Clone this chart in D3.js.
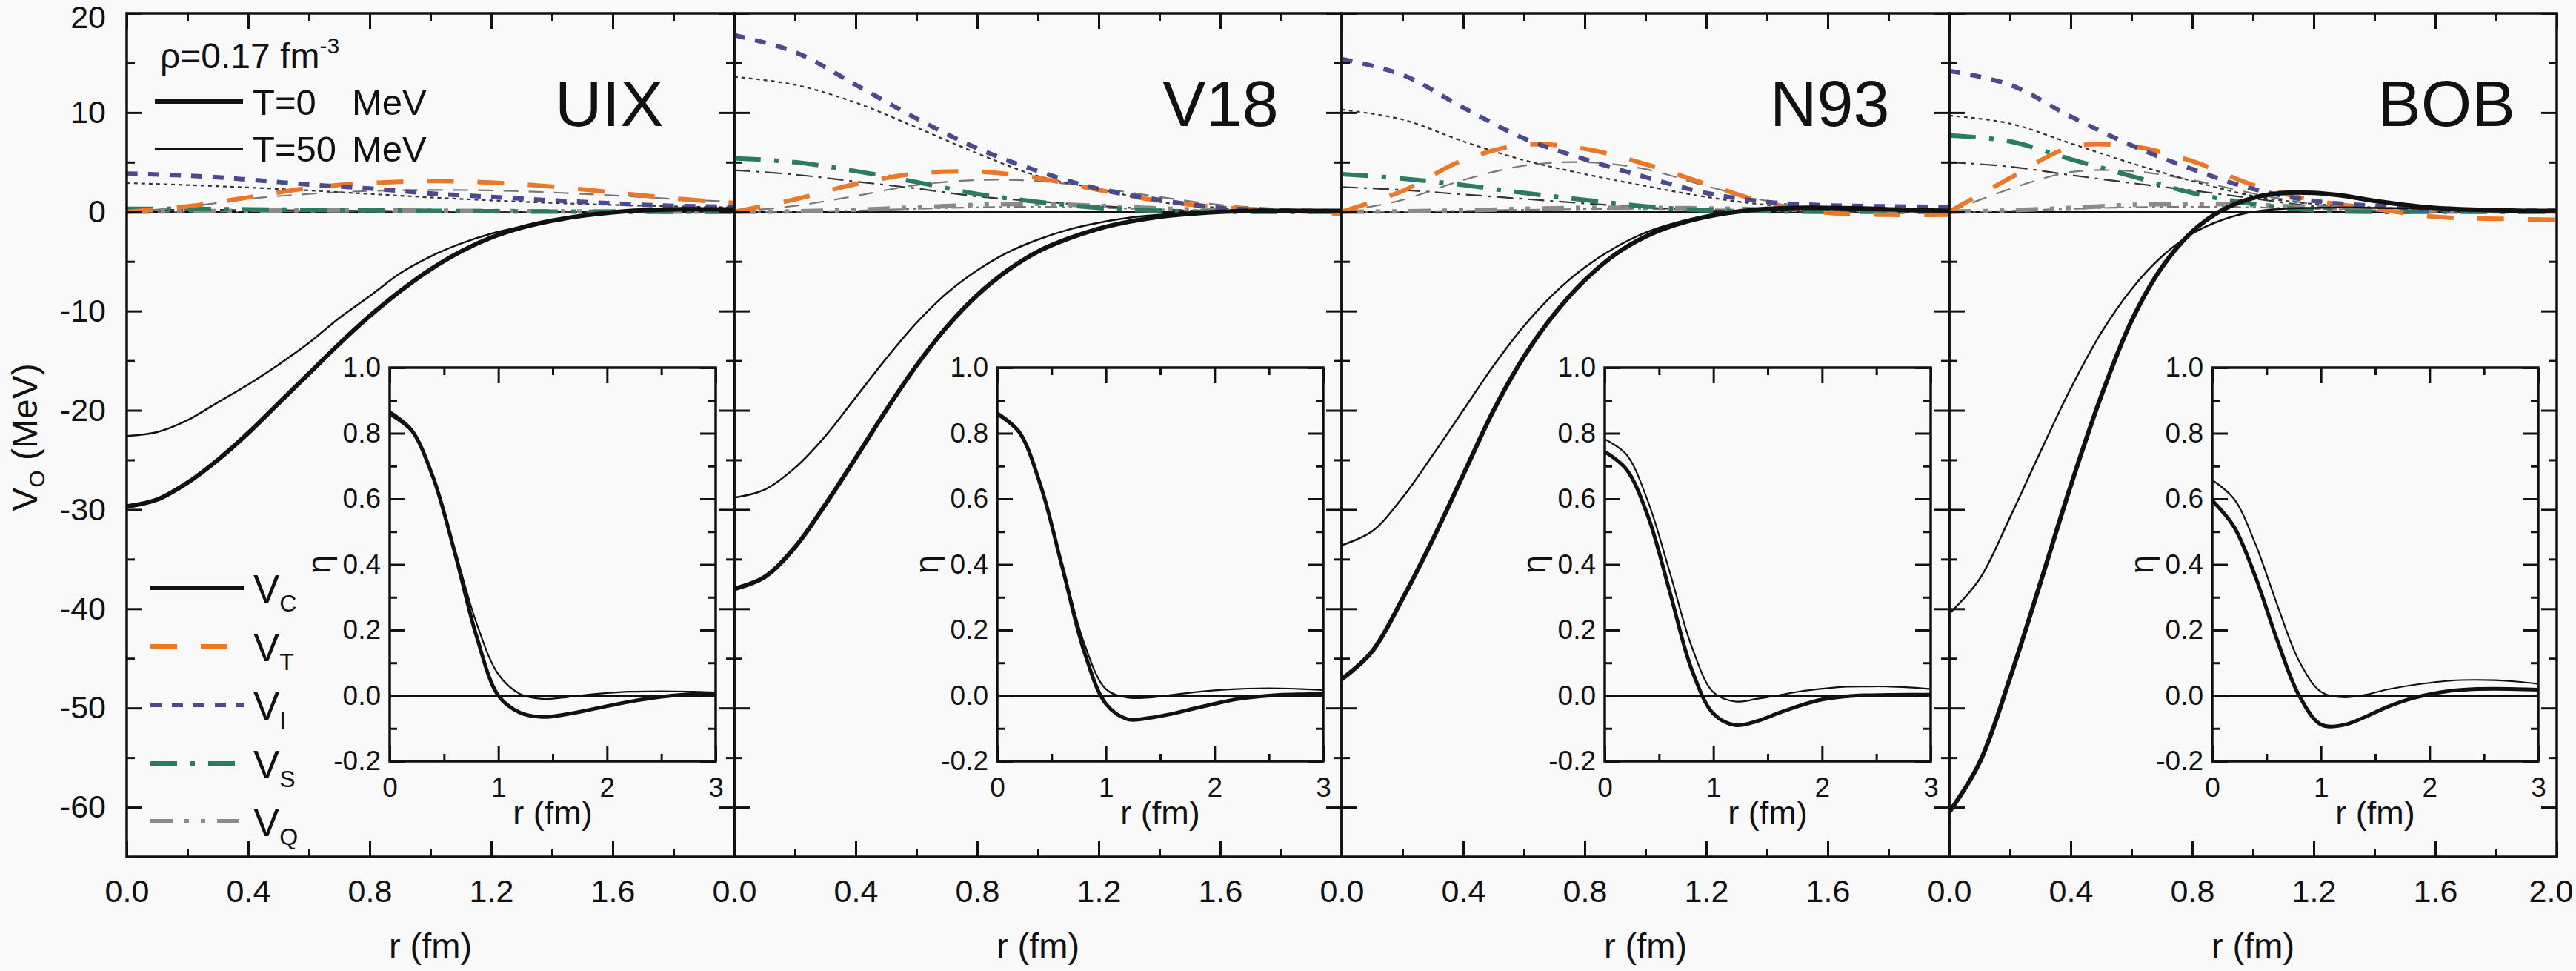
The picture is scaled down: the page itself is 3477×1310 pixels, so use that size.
<!DOCTYPE html>
<html><head><meta charset="utf-8">
<script src="https://cdn.jsdelivr.net/npm/d3@7"></script>
<style>html,body{margin:0;padding:0;background:#f9f9f9;}text{font-family:"Liberation Sans",Arial,sans-serif;fill:#111;}</style>
</head><body>
<script>
// ---------- DATA ----------
const PANEL_NAMES = ["UIX","V18","N93","BOB"];
const R_MAIN = [0,0.1,0.2,0.3,0.4,0.5,0.6,0.7,0.8,0.9,1.0,1.1,1.2,1.3,1.4,1.5,1.6,1.7,1.8,1.9,2.0];
const R_COMP = [0,0.2,0.4,0.6,0.8,1.0,1.2,1.4,1.6,1.8,2.0];
const R_ETA  = [0,0.2,0.4,0.6,0.8,1.0,1.2,1.4,1.6,1.8,2.0,2.2,2.4,2.6,2.8,3.0];
const Y_TICKS = [-60,-50,-40,-30,-20,-10,0,10,20];
const Y_MINOR = [-55,-45,-35,-25,-15,-5,5,15];
const X_TICKS = [0,0.4,0.8,1.2,1.6];
const X_TICKS_LAST = [0,0.4,0.8,1.2,1.6,2.0];
const X_MINOR = [0.2,0.6,1.0,1.4,1.8];
const ETA_Y_TICKS = [-0.2,0,0.2,0.4,0.6,0.8,1.0];
const ETA_Y_MINOR = [-0.1,0.1,0.3,0.5,0.7,0.9];
const ETA_X_TICKS = [0,1,2,3];
const ETA_X_MINOR = [0.5,1.5,2.5];

// central potential V_C (T=0 thick, T=50 thin), on R_MAIN
const UIX_VC_T0  = [-29.7,-29.0,-27.3,-25.0,-22.3,-19.3,-16.3,-13.3,-10.5,-8.0,-5.8,-4.0,-2.6,-1.6,-0.9,-0.4,-0.05,0.15,0.25,0.25,0.25];
const UIX_VC_T50 = [-22.6,-22.2,-21.0,-19.2,-17.4,-15.4,-13.2,-10.7,-8.5,-6.2,-4.5,-3.2,-2.2,-1.5,-0.9,-0.4,-0.1,0.1,0.2,0.2,0.2];
const V18_VC_T0  = [-38.0,-36.8,-33.8,-29.5,-24.8,-20.0,-15.5,-11.6,-8.4,-5.9,-4.0,-2.7,-1.7,-1.0,-0.5,-0.2,0.0,0.1,0.1,0.1,0.1];
const V18_VC_T50 = [-28.8,-28.0,-25.8,-22.6,-18.7,-14.8,-11.2,-8.2,-5.9,-4.1,-2.8,-1.8,-1.1,-0.6,-0.3,-0.1,0.0,0.05,0.1,0.1,0.1];
const N93_VC_T0  = [-47.1,-44.3,-39.0,-33.0,-26.5,-20.0,-14.6,-10.3,-6.9,-4.3,-2.5,-1.3,-0.5,0.0,0.3,0.4,0.4,0.35,0.25,0.15,0.1];
const N93_VC_T50 = [-33.6,-32.2,-28.8,-24.5,-20.0,-15.5,-11.5,-8.2,-5.6,-3.6,-2.1,-1.1,-0.4,0.0,0.2,0.3,0.3,0.25,0.2,0.15,0.1];
const BOB_VC_T0  = [-60.5,-55.5,-47.0,-37.4,-27.6,-18.6,-11.0,-5.6,-2.0,0.2,1.4,1.9,1.9,1.6,1.1,0.7,0.4,0.25,0.15,0.1,0.1];
const BOB_VC_T50 = [-40.5,-37.0,-30.8,-24.2,-17.8,-12.2,-7.8,-4.5,-2.2,-0.8,0.0,0.3,0.4,0.45,0.4,0.35,0.3,0.25,0.2,0.15,0.1];

// component potentials on R_COMP
const UIX_VT_T0  = [0,0.55,1.45,2.4,2.9,3.1,2.95,2.55,1.95,1.35,0.9];
const UIX_VT_T50 = [0,0.5,1.3,1.8,2.1,2.2,2.15,1.95,1.65,1.3,1.0];
const UIX_VI_T0  = [3.85,3.65,3.25,2.75,2.35,1.85,1.5,1.15,0.85,0.6,0.5];
const UIX_VI_T50 = [2.9,2.7,2.45,2.15,1.8,1.45,1.15,0.9,0.7,0.55,0.45];
const UIX_VS_T0  = [0.3,0.3,0.25,0.2,0.15,0.1,0.05,0.02,0,0,0];
const UIX_VS_T50 = [0.2,0.2,0.18,0.15,0.1,0.06,0.03,0.01,0,0,0];
const UIX_VQ_T0  = [0,0.05,0.1,0.15,0.15,0.12,0.08,0.05,0.03,0.02,0.01];
const UIX_VQ_T50 = [0,0.03,0.06,0.08,0.08,0.07,0.05,0.03,0.02,0.01,0.01];

const V18_VT_T0  = [0,1.25,2.8,3.85,4.05,3.4,2.2,1.1,0.45,0.15,-0.2];
const V18_VT_T50 = [0,0.6,1.6,2.7,3.2,3.1,2.4,1.5,0.7,0.3,0.0];
const V18_VI_T0  = [17.8,16.1,12.8,9.4,6.4,4.1,2.3,1.2,0.4,0.15,0.05];
const V18_VI_T50 = [13.6,12.8,11.0,8.5,5.9,3.6,2.3,1.0,0.4,0.12,0.05];
const V18_VS_T0  = [5.4,5.0,4.1,3.0,1.8,1.0,0.4,0.1,0,0,0];
const V18_VS_T50 = [4.2,3.75,3.05,2.35,1.55,1.05,0.6,0.25,0.05,0,0];
const V18_VQ_T0  = [0,0.05,0.2,0.45,0.7,0.8,0.6,0.35,0.15,0.08,0.05];
const V18_VQ_T50 = [0,0.03,0.12,0.3,0.45,0.5,0.4,0.25,0.12,0.06,0.03];

const N93_VT_T0  = [0,2.1,5.2,6.75,6.35,4.8,2.8,0.9,-0.1,-0.3,-0.3];
const N93_VT_T50 = [0,1.2,3.2,4.65,5.0,4.3,2.6,1.1,0.3,0.05,0];
const N93_VI_T0  = [15.4,13.8,10.5,7.4,5.3,3.5,1.9,1.0,0.65,0.55,0.5];
const N93_VI_T50 = [10.3,9.3,7.1,5.2,3.8,2.6,1.5,0.7,0.45,0.35,0.3];
const N93_VS_T0  = [3.8,3.35,2.7,1.9,1.2,0.55,0.15,0.05,0,0,0];
const N93_VS_T50 = [2.5,2.2,1.75,1.3,0.85,0.45,0.15,0.05,0,0,0];
const N93_VQ_T0  = [0,0.05,0.15,0.3,0.4,0.4,0.35,0.25,0.15,0.08,0.05];
const N93_VQ_T50 = [0,0.03,0.1,0.2,0.28,0.3,0.25,0.18,0.1,0.05,0.03];

const BOB_VT_T0  = [0,3.4,6.5,6.6,5.1,2.7,1.15,0.3,-0.5,-0.7,-0.8];
const BOB_VT_T50 = [0,2.3,4.0,4.1,3.2,1.85,0.75,0.1,-0.1,-0.1,-0.1];
const BOB_VI_T0  = [14.2,12.8,9.6,6.7,4.3,2.3,1.1,0.6,0.3,0.15,0.1];
const BOB_VI_T50 = [9.7,8.9,6.9,4.9,3.1,1.6,0.8,0.45,0.25,0.15,0.1];
const BOB_VS_T0  = [7.7,7.1,5.3,3.6,1.9,0.8,0.15,0,0,0,0];
const BOB_VS_T50 = [5.0,4.55,3.7,2.9,2.15,1.35,0.55,0.15,0,0,0];
const BOB_VQ_T0  = [0,0.15,0.4,0.7,0.8,0.7,0.45,0.25,0.15,0.08,0.05];
const BOB_VQ_T50 = [0,0.1,0.3,0.45,0.5,0.45,0.3,0.18,0.1,0.05,0.03];

// inset eta(r) on R_ETA
const UIX_ETA_T0  = [0.864,0.81,0.665,0.435,0.18,0.0,-0.052,-0.065,-0.058,-0.046,-0.032,-0.019,-0.008,0.0,0.005,0.007];
const UIX_ETA_T50 = [0.855,0.805,0.665,0.445,0.22,0.065,0.005,-0.01,-0.006,0.002,0.008,0.012,0.013,0.013,0.012,0.01];
const V18_ETA_T0  = [0.861,0.805,0.64,0.39,0.135,-0.025,-0.072,-0.068,-0.056,-0.04,-0.025,-0.011,-0.003,0.002,0.004,0.005];
const V18_ETA_T50 = [0.855,0.80,0.64,0.40,0.16,0.02,-0.006,-0.006,0.002,0.01,0.016,0.02,0.022,0.022,0.02,0.017];
const N93_ETA_T0  = [0.744,0.69,0.545,0.315,0.08,-0.055,-0.09,-0.078,-0.053,-0.03,-0.012,-0.003,0.001,0.002,0.003,0.003];
const N93_ETA_T50 = [0.782,0.735,0.59,0.375,0.15,0.01,-0.018,-0.01,0.001,0.013,0.021,0.027,0.028,0.028,0.025,0.02];
const BOB_ETA_T0  = [0.595,0.515,0.36,0.167,0.0,-0.088,-0.09,-0.066,-0.036,-0.012,0.004,0.015,0.02,0.021,0.02,0.018];
const BOB_ETA_T50 = [0.657,0.60,0.46,0.275,0.105,0.012,-0.005,0.002,0.018,0.03,0.039,0.046,0.048,0.047,0.043,0.036];

// ---------- assemble tables ----------
const VC = [[UIX_VC_T0,UIX_VC_T50],[V18_VC_T0,V18_VC_T50],[N93_VC_T0,N93_VC_T50],[BOB_VC_T0,BOB_VC_T50]];
const COMP = [
  {VT:[UIX_VT_T0,UIX_VT_T50],VI:[UIX_VI_T0,UIX_VI_T50],VS:[UIX_VS_T0,UIX_VS_T50],VQ:[UIX_VQ_T0,UIX_VQ_T50]},
  {VT:[V18_VT_T0,V18_VT_T50],VI:[V18_VI_T0,V18_VI_T50],VS:[V18_VS_T0,V18_VS_T50],VQ:[V18_VQ_T0,V18_VQ_T50]},
  {VT:[N93_VT_T0,N93_VT_T50],VI:[N93_VI_T0,N93_VI_T50],VS:[N93_VS_T0,N93_VS_T50],VQ:[N93_VQ_T0,N93_VQ_T50]},
  {VT:[BOB_VT_T0,BOB_VT_T50],VI:[BOB_VI_T0,BOB_VI_T50],VS:[BOB_VS_T0,BOB_VS_T50],VQ:[BOB_VQ_T0,BOB_VQ_T50]}
];
const ETA = [[UIX_ETA_T0,UIX_ETA_T50],[V18_ETA_T0,V18_ETA_T50],[N93_ETA_T0,N93_ETA_T50],[BOB_ETA_T0,BOB_ETA_T50]];

// styles
const STY = {
  VT:{c0:"#e9782a", c1:"#777", d0:"36,32", d1:"20,14"},
  VI:{c0:"#4a4a8c", c1:"#333", d0:"15,14", d1:"5,5"},
  VS:{c0:"#2b7a62", c1:"#333", d0:"36,18,6,18", d1:"22,8,4,8"},
  VQ:{c0:"#8a8a8a", c1:"#777", d0:"30,16,6,16,6,16", d1:"16,6,4,6,4,6"}
};
const ORDER = ["VQ","VS","VT","VI"];

const W = 3477, H = 1310;
const LEFT = 171, PW = 820, TOP = 18, BOT = 1156;
const FONT = '"Liberation Sans",Arial,sans-serif';

const svg = d3.select("body").append("svg").attr("width",W).attr("height",H);
svg.append("rect").attr("width",W).attr("height",H).attr("fill","#f9f9f9");
const defs = svg.append("defs");

const y = d3.scaleLinear().domain([-65,20]).range([BOT,TOP]);
const zip = (rs, vs) => rs.map((r,i)=>[r, vs[i]]);

function styleAxis(g, fs){
  g.select(".domain").remove();
  g.selectAll(".tick line").attr("stroke","#111").attr("stroke-width",3);
  g.selectAll(".tick text").attr("font-size",fs).attr("font-family",FONT).attr("fill","#111");
}

PANEL_NAMES.forEach((name,i)=>{
  const x0 = LEFT + i*PW;
  const x = d3.scaleLinear().domain([0,2]).range([x0, x0+PW]);
  const g = svg.append("g");
  defs.append("clipPath").attr("id","clip"+i).append("rect")
    .attr("x",x0).attr("y",TOP).attr("width",PW).attr("height",BOT-TOP);
  const pg = g.append("g").attr("clip-path",`url(#clip${i})`);
  const line = d3.line().x(d=>x(d[0])).y(d=>y(d[1])).curve(d3.curveCatmullRom.alpha(0.5));

  // zero line
  pg.append("line").attr("x1",x(0)).attr("x2",x(2)).attr("y1",y(0)).attr("y2",y(0))
    .attr("stroke","#111").attr("stroke-width",3);

  // component potentials: thin (T=50) then thick (T=0)
  ORDER.forEach(k=>{
    const s = STY[k];
    pg.append("path").datum(zip(R_COMP, COMP[i][k][1])).attr("d",line)
      .attr("fill","none").attr("stroke",s.c1).attr("stroke-width",2.2).attr("stroke-dasharray",s.d1);
  });
  ORDER.forEach(k=>{
    const s = STY[k];
    pg.append("path").datum(zip(R_COMP, COMP[i][k][0])).attr("d",line)
      .attr("fill","none").attr("stroke",s.c0).attr("stroke-width",6).attr("stroke-dasharray",s.d0);
  });
  // central
  pg.append("path").datum(zip(R_MAIN, VC[i][1])).attr("d",line)
    .attr("fill","none").attr("stroke","#111").attr("stroke-width",2.5);
  pg.append("path").datum(zip(R_MAIN, VC[i][0])).attr("d",line)
    .attr("fill","none").attr("stroke","#111").attr("stroke-width",6);

  // axes (inward ticks)
  const xt = i===3 ? X_TICKS_LAST : X_TICKS;
  g.append("g").attr("transform",`translate(0,${BOT})`)
    .call(d3.axisBottom(x).tickValues(xt).tickSize(-21).tickSizeOuter(0).tickPadding(30).tickFormat(d3.format(".1f")))
    .call(a=>styleAxis(a,43))
    .call(a=>a.selectAll(".tick text").filter(d=>d===2).attr("dx",-8));
  g.append("g").attr("transform",`translate(0,${BOT})`)
    .call(d3.axisBottom(x).tickValues(X_MINOR).tickSize(-11).tickSizeOuter(0).tickFormat(""))
    .call(a=>styleAxis(a,43));
  g.append("g").attr("transform",`translate(0,${TOP})`)
    .call(d3.axisTop(x).tickValues(X_TICKS_LAST).tickSize(-21).tickSizeOuter(0).tickFormat(""))
    .call(a=>styleAxis(a,43));
  g.append("g").attr("transform",`translate(0,${TOP})`)
    .call(d3.axisTop(x).tickValues(X_MINOR).tickSize(-11).tickSizeOuter(0).tickFormat(""))
    .call(a=>styleAxis(a,43));
  g.append("g").attr("transform",`translate(${x0},0)`)
    .call(d3.axisLeft(y).tickValues(Y_TICKS).tickSize(-21).tickSizeOuter(0).tickPadding(28)
      .tickFormat(i===0 ? (d=>String(d)) : ""))
    .call(a=>styleAxis(a,43))
    .call(a=>a.selectAll(".tick text").filter(d=>d===20).attr("dy","0.45em"));
  g.append("g").attr("transform",`translate(${x0},0)`)
    .call(d3.axisLeft(y).tickValues(Y_MINOR).tickSize(-11).tickSizeOuter(0).tickFormat(""))
    .call(a=>styleAxis(a,43));
  g.append("g").attr("transform",`translate(${x0+PW},0)`)
    .call(d3.axisRight(y).tickValues(Y_TICKS).tickSize(-21).tickSizeOuter(0).tickFormat(""))
    .call(a=>styleAxis(a,43));
  g.append("g").attr("transform",`translate(${x0+PW},0)`)
    .call(d3.axisRight(y).tickValues(Y_MINOR).tickSize(-11).tickSizeOuter(0).tickFormat(""))
    .call(a=>styleAxis(a,43));

  // frame
  g.append("rect").attr("x",x0).attr("y",TOP).attr("width",PW).attr("height",BOT-TOP)
    .attr("fill","none").attr("stroke","#111").attr("stroke-width",3.5);

  // panel label
  g.append("text").attr("x",x0+578).attr("y",170).attr("font-size",88).text(name);

  // x title
  g.append("text").attr("x",x0+PW/2).attr("y",1292).attr("text-anchor","middle").attr("font-size",47).text("r (fm)");

  // ---- inset ----
  const ix = d3.scaleLinear().domain([0,3]).range([x0+355, x0+795]);
  const iy = d3.scaleLinear().domain([-0.2,1.0]).range([1027,496]);
  const ig = g.append("g");
  const iline = d3.line().x(d=>ix(d[0])).y(d=>iy(d[1])).curve(d3.curveCatmullRom.alpha(0.5));
  ig.append("rect").attr("x",ix(0)).attr("y",iy(1)).attr("width",ix(3)-ix(0)).attr("height",iy(-0.2)-iy(1))
    .attr("fill","#f9f9f9");
  ig.append("line").attr("x1",ix(0)).attr("x2",ix(3)).attr("y1",iy(0)).attr("y2",iy(0))
    .attr("stroke","#111").attr("stroke-width",3);
  ig.append("path").datum(zip(R_ETA, ETA[i][1])).attr("d",iline)
    .attr("fill","none").attr("stroke","#111").attr("stroke-width",2.2);
  ig.append("path").datum(zip(R_ETA, ETA[i][0])).attr("d",iline)
    .attr("fill","none").attr("stroke","#111").attr("stroke-width",5);

  ig.append("g").attr("transform",`translate(0,${iy(-0.2)})`)
    .call(d3.axisBottom(ix).tickValues(ETA_X_TICKS).tickSize(-21).tickSizeOuter(0).tickPadding(22).tickFormat(d=>String(d)))
    .call(a=>styleAxis(a,37));
  ig.append("g").attr("transform",`translate(0,${iy(-0.2)})`)
    .call(d3.axisBottom(ix).tickValues(ETA_X_MINOR).tickSize(-10).tickSizeOuter(0).tickFormat(""))
    .call(a=>styleAxis(a,37));
  ig.append("g").attr("transform",`translate(0,${iy(1)})`)
    .call(d3.axisTop(ix).tickValues(ETA_X_TICKS).tickSize(-21).tickSizeOuter(0).tickFormat(""))
    .call(a=>styleAxis(a,37));
  ig.append("g").attr("transform",`translate(0,${iy(1)})`)
    .call(d3.axisTop(ix).tickValues(ETA_X_MINOR).tickSize(-10).tickSizeOuter(0).tickFormat(""))
    .call(a=>styleAxis(a,37));
  ig.append("g").attr("transform",`translate(${ix(0)},0)`)
    .call(d3.axisLeft(iy).tickValues(ETA_Y_TICKS).tickSize(-21).tickSizeOuter(0).tickPadding(12).tickFormat(d=>d.toFixed(1)))
    .call(a=>styleAxis(a,37));
  ig.append("g").attr("transform",`translate(${ix(0)},0)`)
    .call(d3.axisLeft(iy).tickValues(ETA_Y_MINOR).tickSize(-10).tickSizeOuter(0).tickFormat(""))
    .call(a=>styleAxis(a,37));
  ig.append("g").attr("transform",`translate(${ix(3)},0)`)
    .call(d3.axisRight(iy).tickValues(ETA_Y_TICKS).tickSize(-21).tickSizeOuter(0).tickFormat(""))
    .call(a=>styleAxis(a,37));
  ig.append("g").attr("transform",`translate(${ix(3)},0)`)
    .call(d3.axisRight(iy).tickValues(ETA_Y_MINOR).tickSize(-10).tickSizeOuter(0).tickFormat(""))
    .call(a=>styleAxis(a,37));
  ig.append("rect").attr("x",ix(0)).attr("y",iy(1)).attr("width",ix(3)-ix(0)).attr("height",iy(-0.2)-iy(1))
    .attr("fill","none").attr("stroke","#111").attr("stroke-width",3.5);
  ig.append("text").attr("x",(ix(0)+ix(3))/2).attr("y",1112).attr("text-anchor","middle").attr("font-size",45).text("r (fm)");
  ig.append("text").attr("transform",`translate(${x0+275},${(iy(1)+iy(-0.2))/2}) rotate(-90)`)
    .attr("text-anchor","middle").attr("font-size",45).text("η");
});

// y title
const yt = svg.append("text").attr("transform","translate(50,590) rotate(-90)").attr("text-anchor","middle").attr("font-size",48);
yt.append("tspan").text("V");
yt.append("tspan").attr("font-size",30).attr("dy",10).text("O");
yt.append("tspan").attr("dy",-10).text(" (MeV)");

// top-left legend
const t1 = svg.append("text").attr("x",216).attr("y",92).attr("font-size",48);
t1.append("tspan").text("ρ=0.17 fm");
t1.append("tspan").attr("font-size",30).attr("dy",-20).text("-3");
svg.append("line").attr("x1",209).attr("x2",328).attr("y1",137).attr("y2",137).attr("stroke","#111").attr("stroke-width",6);
svg.append("text").attr("x",341).attr("y",155).attr("font-size",49).text("T=0");
svg.append("text").attr("x",475).attr("y",155).attr("font-size",49).text("MeV");
svg.append("line").attr("x1",209).attr("x2",328).attr("y1",201).attr("y2",201).attr("stroke","#111").attr("stroke-width",2.5);
svg.append("text").attr("x",341).attr("y",218).attr("font-size",49).text("T=50");
svg.append("text").attr("x",475).attr("y",218).attr("font-size",49).text("MeV");

// bottom-left legend
const LEG = [
  {sub:"C", stroke:"#111", dash:null, w:6},
  {sub:"T", stroke:STY.VT.c0, dash:STY.VT.d0, w:6},
  {sub:"I", stroke:STY.VI.c0, dash:STY.VI.d0, w:6},
  {sub:"S", stroke:STY.VS.c0, dash:STY.VS.d0, w:6},
  {sub:"Q", stroke:STY.VQ.c0, dash:STY.VQ.d0, w:6}
];
const LEG_Y = [793,872,951,1030,1108];
LEG.forEach((l,k)=>{
  const yy = LEG_Y[k];
  const ln = svg.append("line").attr("x1",203).attr("x2",329).attr("y1",yy).attr("y2",yy)
    .attr("stroke",l.stroke).attr("stroke-width",l.w);
  if(l.dash) ln.attr("stroke-dasharray",l.dash);
  const t = svg.append("text").attr("x",342).attr("y",yy+20).attr("font-size",53);
  t.append("tspan").text("V");
  t.append("tspan").attr("font-size",32).attr("dy",12).text(l.sub);
});
</script>
</body></html>
